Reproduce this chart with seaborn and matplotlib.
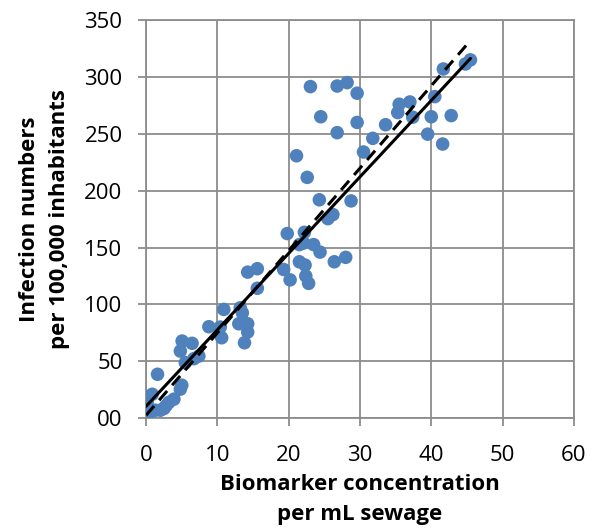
import numpy as np
import pandas as pd
import matplotlib
matplotlib.use("Agg")
import matplotlib.pyplot as plt
import seaborn as sns

# biomarker concentration vs infection numbers
biomarker = [23.05, 26.8, 28.2, 29.6, 41.7, 44.8, 45.5, 24.5, 29.6, 26.8,
             33.6, 31.8, 35.5, 37.0, 35.3, 37.4, 40.5, 40.0, 42.8, 39.5,
             41.6, 30.5, 21.1, 22.6, 24.3, 28.75, 25.5, 26.2, 19.8, 22.2,
             21.5, 22.1, 23.5, 24.4, 26.4, 28.0, 21.5, 22.3, 19.3, 20.2,
             22.4, 22.8, 14.25, 15.6, 15.6, 10.9, 13.2, 13.5, 8.8, 10.4,
             13.0, 14.25, 14.25, 10.6, 13.8, 5.05, 6.45, 4.8, 7.4, 6.7,
             5.5, 1.6, 5.0, 4.8, 3.9, 3.2, 0.85, 0.15, 1.3, 2.0,
             2.5, 0.4, 2.8]
infections = [291.5, 292, 295, 285.7, 307, 311.4, 315, 265, 260, 251,
              258, 246, 276, 278, 268.7, 264.6, 282.7, 265, 266, 249.7,
              241, 234, 230.7, 211.7, 192, 191, 175.4, 179, 162.3, 163.4,
              152.6, 154, 152.6, 146, 137.5, 141.4, 137.5, 134.6, 130.7, 121.6,
              125, 118.5, 128.4, 131.4, 114.2, 95.6, 97, 92.6, 80.4, 80.1,
              83, 83, 75.7, 70.7, 66.3, 67.8, 65.8, 59, 54.6, 52.3,
              48.8, 38.6, 29, 25.5, 16.7, 13.9, 21, 13.9, 7, 7,
              8.5, 4.2, 11]

# trend lines: (intercept, slope) over the data range
line_x = [0, 45.5]
solid_fit = (10.5, 6.72)
dashed_fit = (2.6, 7.24)

xticks = [0, 10, 20, 30, 40, 50, 60]
yticks = [0, 50, 100, 150, 200, 250, 300, 350]
ytick_labels = ["00", "50", "100", "150", "200", "250", "300", "350"]

df = pd.DataFrame({"x": biomarker, "y": infections})

sns.set_style("white")
plt.rcParams["font.family"] = ["Open Sans", "DejaVu Sans"]
plt.rcParams["text.color"] = "black"
plt.rcParams["axes.labelcolor"] = "black"

fig = plt.figure(figsize=(5.94, 5.28), dpi=100)
ax = fig.add_axes([0.246, 0.208, 0.72, 0.754])

sns.scatterplot(data=df, x="x", y="y", ax=ax, color="#4f81bd", s=95,
                edgecolor="none", zorder=3)

lx = np.array(line_x)
ax.plot(lx, solid_fit[0] + solid_fit[1] * lx, color="black", lw=2.2, zorder=4)
ax.plot(lx, dashed_fit[0] + dashed_fit[1] * lx, color="black", lw=2.2,
        ls=(0, (4, 2.5)), zorder=4)

ax.set_xlim(0, 60)
ax.set_ylim(0, 350)
ax.set_xticks(xticks)
ax.set_yticks(yticks)
ax.set_yticklabels(ytick_labels)
ax.grid(True, color="#8c8c8c", lw=1.3)
ax.set_axisbelow(True)
for sp in ax.spines.values():
    sp.set_color("#8c8c8c")
    sp.set_linewidth(1.3)
ax.tick_params(axis="both", direction="out", length=6, width=1.3,
               color="#8c8c8c", labelsize=16, labelcolor="black",
               bottom=True, left=True)
ax.tick_params(axis="x", pad=13)
ax.tick_params(axis="y", pad=11)

ax.set_xlabel("Biomarker concentration\nper mL sewage", fontsize=16,
              fontweight="bold", linespacing=1.6, labelpad=6)
ax.set_ylabel("Infection numbers\nper 100,000 inhabitants", fontsize=16,
              fontweight="bold", linespacing=1.6, labelpad=10)

fig.savefig("out.png", dpi=100)
